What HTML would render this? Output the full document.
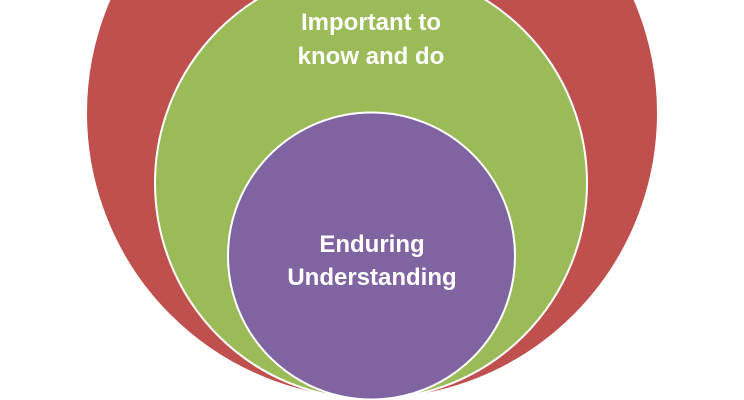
<!DOCTYPE html>
<html><head><style>
html,body{margin:0;padding:0;background:#fff;width:744px;height:400px;overflow:hidden}
</style></head><body>
<svg width="744" height="400" viewBox="0 0 744 400" xmlns="http://www.w3.org/2000/svg">
<circle cx="372" cy="113" r="286" fill="#c0504d" stroke="#fff" stroke-width="2"/>
<circle cx="371" cy="183" r="216" fill="#9bbb59" stroke="#fff" stroke-width="2"/>
<circle cx="371.5" cy="256" r="143.5" fill="#8064a2" stroke="#fff" stroke-width="2"/>
<g font-family="Liberation Sans, sans-serif" font-weight="bold" font-size="24" fill="#fff" text-anchor="middle">
<text x="371" y="30">Important to</text>
<text x="371" y="64">know and do</text>
<text x="372" y="252">Enduring</text>
<text x="372" y="285">Understanding</text>
</g>
</svg>
</body></html>
